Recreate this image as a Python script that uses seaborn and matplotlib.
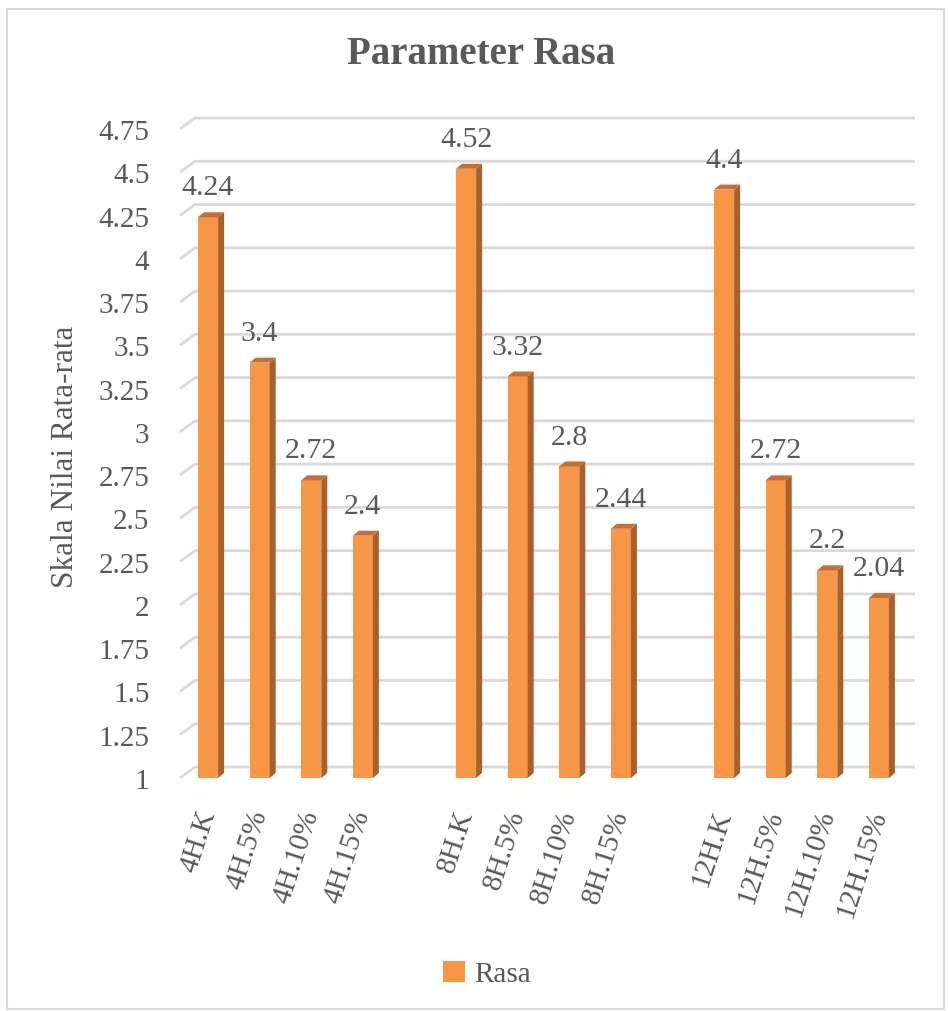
import matplotlib
matplotlib.use("Agg")
import matplotlib.pyplot as plt
import seaborn as sns
import pandas as pd
from matplotlib.patches import Polygon, Rectangle, Patch

# ---- data ----
categories = ["4H.K", "4H.5%", "4H.10%", "4H.15%",
              "8H.K", "8H.5%", "8H.10%", "8H.15%",
              "12H.K", "12H.5%", "12H.10%", "12H.15%"]
values = [4.24, 3.4, 2.72, 2.4,
          4.52, 3.32, 2.8, 2.44,
          4.4, 2.72, 2.2, 2.04]
value_labels = ["4.24", "3.4", "2.72", "2.4",
                "4.52", "3.32", "2.8", "2.44",
                "4.4", "2.72", "2.2", "2.04"]
order = categories[:4] + [" "] + categories[4:8] + ["  "] + categories[8:]
y_ticks = [1, 1.25, 1.5, 1.75, 2, 2.25, 2.5, 2.75, 3, 3.25, 3.5, 3.75, 4, 4.25, 4.5, 4.75]
y_tick_labels = ["1", "1.25", "1.5", "1.75", "2", "2.25", "2.5", "2.75", "3",
                 "3.25", "3.5", "3.75", "4", "4.25", "4.5", "4.75"]
series_name = "Rasa"
title = "Parameter Rasa"
y_title = "Skala Nilai Rata-rata"

# ---- style ----
sns.set_theme(style="white")
plt.rcParams["font.family"] = ["Liberation Serif", "DejaVu Serif"]
TXT = "#595959"
FRONT = "#f79646"
SIDE = "#a8612a"
TOP = "#c2703a"
GRID = "#d9d9d9"

W, H = 948, 1012
fig = plt.figure(figsize=(W / 100, H / 100), dpi=100)
ax_l, ax_r, ax_t, ax_b = 180, 900, 130, 779
ax = fig.add_axes([ax_l / W, 1 - ax_b / H, (ax_r - ax_l) / W, (ax_b - ax_t) / H])

df = pd.DataFrame({"cat": categories, "val": values})
sns.barplot(data=df, x="cat", y="val", order=order, color=FRONT, saturation=1,
            width=0.39, ax=ax, zorder=3, linewidth=0)

xlim = (-0.543, 13.41)
ylim = (1, 4.75)
ax.set_xlim(*xlim)
ax.set_ylim(*ylim)
px_x = (ax_r - ax_l) / (xlim[1] - xlim[0])
px_y = (ax_b - ax_t) / (ylim[1] - ylim[0])

# 3D back wall gridlines
gdx, gdy = 15 / px_x, 11 / px_y
for v in y_ticks:
    ax.plot([xlim[0], xlim[0] + gdx, xlim[1] + gdx], [v, v + gdy, v + gdy],
            color=GRID, lw=2, clip_on=False, zorder=1, solid_capstyle="butt")

# 3D bar sides / tops + labels
bdx, bdy = 6 / px_x, 5 / px_y
bars = [p for p in ax.patches if p.get_height() > 0]
for p, lab in zip(bars, value_labels):
    x0, w, h = p.get_x(), p.get_width(), p.get_height()
    p.set_clip_on(False)
    p.set_y(ylim[0]); p.set_height(h - ylim[0])
    side = Polygon([(x0 + w, ylim[0]), (x0 + w, h), (x0 + w + bdx, h + bdy), (x0 + w + bdx, ylim[0] + bdy)],
                   closed=True, facecolor=SIDE, edgecolor="none", zorder=3, clip_on=False)
    top = Polygon([(x0, h), (x0 + w, h), (x0 + w + bdx, h + bdy), (x0 + bdx, h + bdy)],
                  closed=True, facecolor=TOP, edgecolor="none", zorder=3, clip_on=False)
    ax.add_patch(side); ax.add_patch(top)
    ax.annotate(lab, (x0 + w / 2, h), xytext=(0, 16.5), textcoords="offset points",
                ha="center", va="baseline", fontsize=21.5, color=TXT, zorder=4)

ax.set_yticks(y_ticks)
ax.set_yticklabels(y_tick_labels, fontsize=21, color=TXT)
ax.set_xticks(range(len(order)))
ax.set_xticklabels([c if c.strip() else "" for c in order], fontsize=21, color=TXT,
                   rotation=72, ha="right", va="center", rotation_mode="anchor")
ax.tick_params(axis="y", length=0, pad=22)
ax.tick_params(axis="x", length=0, pad=23)
ax.set_xlabel("")
ax.set_ylabel(y_title, fontsize=22.5, color=TXT)
ax.yaxis.set_label_coords((80 - ax_l) / (ax_r - ax_l), (ax_b - 457) / (ax_b - ax_t))
for s in ax.spines.values():
    s.set_visible(False)
ax.grid(False)
ax.set_facecolor("none")

fig.text(481 / W, 1 - 54 / H, title, ha="center", va="center", fontsize=28,
         fontweight="bold", color=TXT)

fig.legend(handles=[Patch(facecolor=FRONT, edgecolor="none", label=series_name)],
           loc="center", bbox_to_anchor=(487 / W, 1 - 975 / H), frameon=False,
           fontsize=21, handlelength=0.75, handleheight=0.75, handletextpad=0.3,
           labelcolor=TXT)

fig.patches.append(Rectangle((7 / W, 1 - 1010 / H), (944 - 7) / W, (1010 - 10) / H,
                             transform=fig.transFigure, fill=False, edgecolor="#d9d9d9", lw=1.5))

fig.savefig("out.png", dpi=100)
